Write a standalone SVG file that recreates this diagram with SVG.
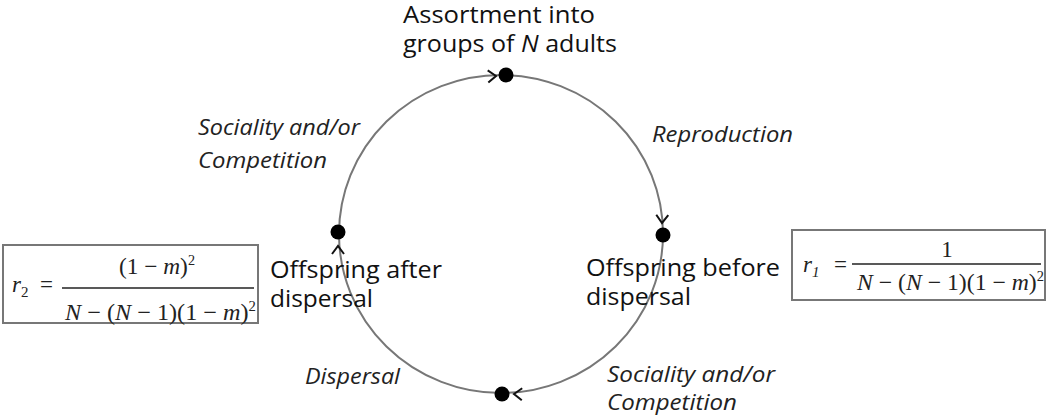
<svg xmlns="http://www.w3.org/2000/svg" width="1050" height="420" viewBox="0 0 1050 420">
<style>
.lbl{font-family:"Open Sans","Liberation Sans",sans-serif;font-size:23px;fill:#111}
.ttl{font-family:"Open Sans","Liberation Sans",sans-serif;font-size:23px;fill:#111}
.it{font-family:"Open Sans","Liberation Sans",sans-serif;font-size:22px;font-style:italic;fill:#222}
.mth{font-family:"Liberation Serif","Times New Roman",serif;font-size:23px;fill:#222}
.box{fill:#fff;stroke:#777;stroke-width:2}
.ring{fill:none;stroke:#777;stroke-width:2}
.chev{fill:none;stroke:#111;stroke-width:2}
.dot{fill:#000}
</style>
<defs>
<path id="chev" class="chev" d="M-8,-6 L0,0 L-8,6"/>
</defs>
<rect width="1050" height="420" fill="#fff"/>
<g id="connectors">
<ellipse class="ring" cx="501" cy="234" rx="162" ry="159"/>
<use href="#chev" transform="translate(496,76) rotate(-3)"/>
<use href="#chev" transform="translate(662,223) rotate(92)"/>
<use href="#chev" transform="translate(514,394) rotate(182)"/>
<use href="#chev" transform="translate(338,246) rotate(-90)"/>
</g>
<g id="node-assortment">
<circle class="dot" cx="506" cy="75" r="7.5"/>
<text class="ttl" x="403" y="23" textLength="192" lengthAdjust="spacingAndGlyphs">Assortment into</text>
<text class="ttl" x="403" y="52" textLength="214" lengthAdjust="spacingAndGlyphs">groups of <tspan font-style="italic">N</tspan> adults</text>
</g>
<g id="node-before">
<circle class="dot" cx="663" cy="235" r="7.5"/>
<text class="lbl" x="586" y="276" textLength="194" lengthAdjust="spacingAndGlyphs">Offspring before</text>
<text class="lbl" x="586" y="305" textLength="105" lengthAdjust="spacingAndGlyphs">dispersal</text>
</g>
<g id="node-bottom">
<circle class="dot" cx="502" cy="394" r="7.5"/>
</g>
<g id="node-after">
<circle class="dot" cx="338" cy="232" r="7.5"/>
<text class="lbl" x="270" y="278" textLength="172" lengthAdjust="spacingAndGlyphs">Offspring after</text>
<text class="lbl" x="270" y="307" textLength="103" lengthAdjust="spacingAndGlyphs">dispersal</text>
</g>
<g id="labels">
<text class="it" x="652" y="142" textLength="141" lengthAdjust="spacingAndGlyphs">Reproduction</text>
<text class="it" x="198" y="135" textLength="162" lengthAdjust="spacingAndGlyphs">Sociality and/or</text>
<text class="it" x="198" y="168" textLength="129" lengthAdjust="spacingAndGlyphs">Competition</text>
<text class="it" x="305" y="384" textLength="95" lengthAdjust="spacingAndGlyphs">Dispersal</text>
<text class="it" x="607" y="382" textLength="168" lengthAdjust="spacingAndGlyphs">Sociality and/or</text>
<text class="it" x="607" y="410" textLength="130" lengthAdjust="spacingAndGlyphs">Competition</text>
</g>
<g id="formula-r2">
<rect class="box" x="3" y="245" width="255" height="78"/>
<text class="mth" x="12" y="292"><tspan font-style="italic">r</tspan><tspan font-size="15" dy="5">2</tspan></text>
<text class="mth" x="40" y="292">=</text>
<line x1="62" y1="288" x2="254" y2="288" stroke="#222" stroke-width="1.5"/>
<text class="mth" x="119" y="274" textLength="76" lengthAdjust="spacingAndGlyphs">(1 − <tspan font-style="italic">m</tspan>)<tspan font-size="14" dy="-9">2</tspan></text>
<text class="mth" x="65" y="320" textLength="191" lengthAdjust="spacingAndGlyphs"><tspan font-style="italic">N</tspan> − (<tspan font-style="italic">N</tspan> − 1)(1 − <tspan font-style="italic">m</tspan>)<tspan font-size="14" dy="-9">2</tspan></text>
</g>
<g id="formula-r1">
<rect class="box" x="792" y="230" width="253" height="70"/>
<text class="mth" x="803" y="272"><tspan font-style="italic">r</tspan><tspan font-size="15" font-style="italic" dy="5">1</tspan></text>
<text class="mth" x="834" y="272">=</text>
<line x1="852" y1="264" x2="1041" y2="264" stroke="#222" stroke-width="1.5"/>
<text class="mth" x="947" y="257" text-anchor="middle">1</text>
<text class="mth" x="857" y="290" textLength="187" lengthAdjust="spacingAndGlyphs"><tspan font-style="italic">N</tspan> − (<tspan font-style="italic">N</tspan> − 1)(1 − <tspan font-style="italic">m</tspan>)<tspan font-size="14" dy="-9">2</tspan></text>
</g>
</svg>
